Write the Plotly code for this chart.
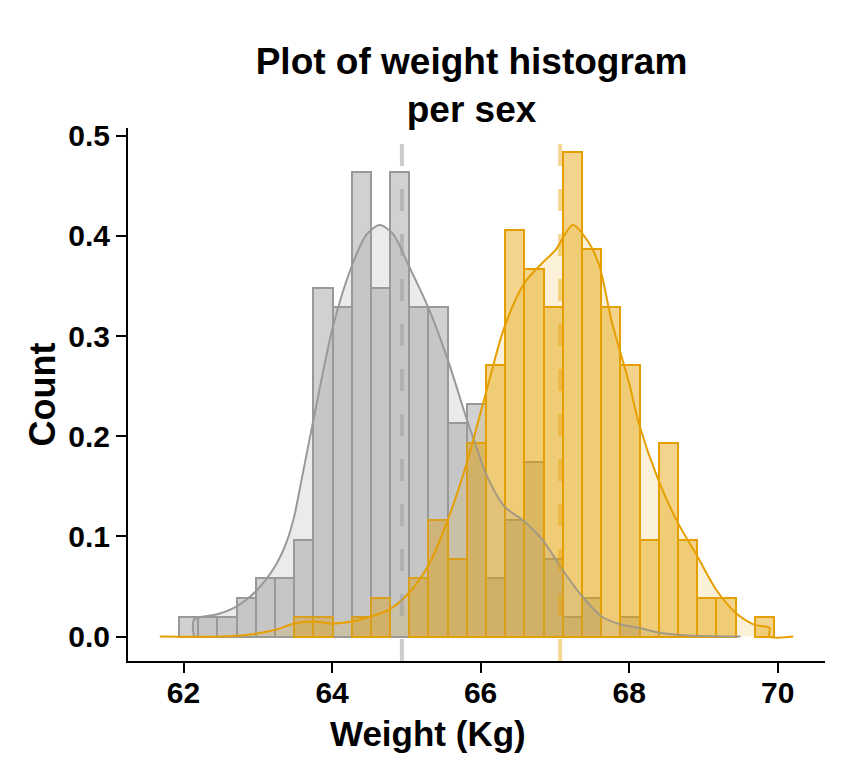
import plotly.graph_objects as go

# histogram bins (as drawn): 33 bins of equal width
bin_start = 61.679
bin_width = 0.2585

# counts per bin
female_counts = [0, 1, 1, 1, 2, 3, 3, 5, 18, 17, 24, 18, 24, 17, 17, 11, 12,
                 3, 6, 9, 4, 1, 2, 0, 1, 0, 0, 0, 0, 0, 0, 0, 0]
male_counts = [0, 0, 0, 0, 0, 0, 0, 1, 1, 0, 1, 2, 0, 3, 6, 4, 10, 14, 21,
               19, 17, 25, 20, 17, 14, 5, 10, 5, 2, 2, 0, 1, 0]

# density curves
female_dens_x = [62.14, 62.14, 62.44, 62.71, 62.97, 63.23, 63.38, 63.49, 63.59,
                 63.74, 64.01, 64.26, 64.46, 64.64, 64.82, 65.04, 65.31, 65.56,
                 65.80, 65.94, 66.07, 66.32, 66.59, 66.83, 67.10, 67.37, 67.63,
                 67.89, 68.13, 68.40, 68.80, 69.50]
female_dens_y = [0.0, 0.017, 0.022, 0.030, 0.045, 0.070, 0.093, 0.120, 0.157,
                 0.213, 0.309, 0.369, 0.401, 0.411, 0.402, 0.369, 0.326, 0.276,
                 0.220, 0.190, 0.163, 0.130, 0.115, 0.097, 0.067, 0.040, 0.020,
                 0.012, 0.0087, 0.004, 0.001, 0.0]
male_dens_x = [61.68, 62.50, 62.89, 63.25, 63.49, 63.74, 64.00, 64.26, 64.52,
               64.77, 65.04, 65.31, 65.56, 65.80, 66.07, 66.32, 66.59, 66.83,
               67.01, 67.24, 67.46, 67.60, 67.77, 68.00, 68.13, 68.39, 68.66,
               68.92, 69.17, 69.43, 69.68, 69.89, 69.89, 70.21]
male_dens_y = [0.0, 0.0, 0.002, 0.007, 0.013, 0.015, 0.013, 0.015, 0.020,
               0.027, 0.044, 0.073, 0.117, 0.170, 0.243, 0.309, 0.353, 0.373,
               0.386, 0.411, 0.393, 0.370, 0.313, 0.253, 0.213, 0.157, 0.113,
               0.080, 0.047, 0.024, 0.012, 0.0087, 0.0, 0.0]

female_mean = 64.94
male_mean = 67.07

x_ticks = [62, 64, 66, 68, 70]
y_ticks = [0.0, 0.1, 0.2, 0.3, 0.4, 0.5]

grey = '#999999'
orange = '#E69F00'

centers = [bin_start + bin_width * (i + 0.5) for i in range(len(female_counts))]
bins = dict(start=bin_start, end=bin_start + bin_width * len(female_counts), size=bin_width)

fig = go.Figure()

# --- histograms (sum of counts, normalised to density) ---
for counts, col, fill in [(female_counts, grey, 'rgba(153,153,153,0.45)'),
                          (male_counts, orange, 'rgba(230,159,0,0.45)')]:
    fig.add_trace(go.Histogram(
        x=centers, y=counts, histfunc='sum', histnorm='probability density',
        xbins=bins, autobinx=False,
        marker=dict(color=fill, line=dict(color=col, width=2)),
        hoverinfo='skip'
    ))

# --- density curves ---
fig.add_trace(go.Scatter(
    x=female_dens_x, y=female_dens_y, mode='lines', fill='tozeroy',
    fillcolor='rgba(153,153,153,0.2)',
    line=dict(color=grey, width=2, shape='spline', smoothing=0.8),
    hoverinfo='skip'
))
fig.add_trace(go.Scatter(
    x=male_dens_x, y=male_dens_y, mode='lines', fill='tozeroy',
    fillcolor='rgba(230,159,0,0.15)',
    line=dict(color=orange, width=2, shape='spline', smoothing=0.8),
    hoverinfo='skip'
))

# --- mean lines ---
for m, col in [(female_mean, 'rgba(153,153,153,0.5)'), (male_mean, 'rgba(230,159,0,0.42)')]:
    fig.add_shape(type='line', xref='x', yref='paper', x0=m, x1=m, y0=0, y1=1,
                  line=dict(color=col, width=4, dash='22px,23px'), layer='above')

# x axis title sits a bit left of the panel centre in the original
fig.add_annotation(text='<b>Weight (Kg)</b>', xref='paper', yref='paper',
                   x=0.4297, y=0, yshift=-72, xanchor='center', yanchor='middle',
                   showarrow=False, font=dict(size=35, color='black'))

font_family = 'Liberation Sans, Arial, sans-serif'

fig.update_layout(
    width=864, height=768,
    barmode='overlay', bargap=0,
    showlegend=False,
    plot_bgcolor='white', paper_bgcolor='white',
    margin=dict(l=120, r=47, t=120, b=115),
    font=dict(family=font_family, color='black'),
    title=dict(text='Plot of weight histogram<br>per sex', x=0.5365, xanchor='center',
               y=1 - 66 / 768, yanchor='top',
               font=dict(size=37, weight='bold', color='black')),
    xaxis=dict(range=[61.252, 70.637], tickvals=x_ticks, showgrid=False, zeroline=False,
               showline=True, linecolor='black', linewidth=2,
               ticks='outside', ticklen=10, tickwidth=2, tickcolor='black',
               ticklabelstandoff=-6,
               tickfont=dict(size=30, weight='bold', color='black')),
    yaxis=dict(range=[-0.0244, 0.5078], tickvals=y_ticks, tickformat='.1f',
               showgrid=False, zeroline=False,
               showline=True, linecolor='black', linewidth=2,
               ticks='outside', ticklen=10, tickwidth=2, tickcolor='black',
               tickfont=dict(size=30, weight='bold', color='black'),
               title=dict(text='Count', standoff=2,
                          font=dict(size=36, weight='bold', color='black'))),
)

fig.write_html("out.html")
